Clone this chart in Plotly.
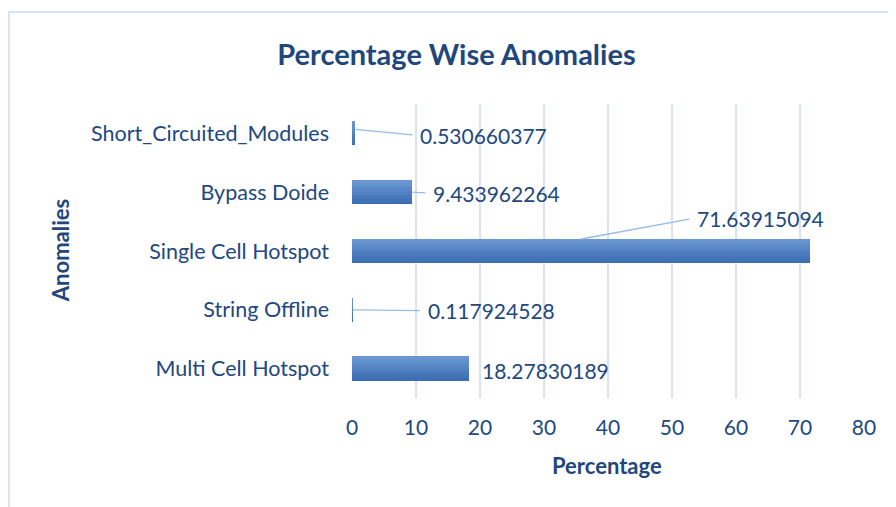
import plotly.graph_objects as go

# ---- data ----
categories = ["Multi Cell Hotspot", "String Offline", "Single Cell Hotspot",
              "Bypass Doide", "Short_Circuited_Modules"]
percentages = [18.27830189, 0.117924528, 71.63915094, 9.433962264, 0.530660377]
value_labels = ["18.27830189", "0.117924528", "71.63915094", "9.433962264", "0.530660377"]
x_ticks = [0, 10, 20, 30, 40, 50, 60, 70, 80]

# ---- style ----
FONT = "Lato"
TXT = "#21487F"
TITLE_C = "#1F477C"
GRID = "#D7E3F4"
LEADER = "#95BBE6"
top_rgb = (106, 151, 210)
bot_rgb = (60, 109, 179)

fig = go.Figure()

# gradient bars built from thin overlaid strips
n_strips = 10
bar_w = 0.41
for i in range(n_strips):
    t = i / (n_strips - 1)
    c = tuple(int(round(bot_rgb[k] + (top_rgb[k] - bot_rgb[k]) * t)) for k in range(3))
    fig.add_trace(go.Bar(
        x=percentages, y=categories, orientation="h",
        width=bar_w / n_strips + 0.004,
        offset=-bar_w / 2 + i * bar_w / n_strips,
        marker=dict(color="rgb(%d,%d,%d)" % c, line=dict(width=0)),
        hoverinfo="skip", showlegend=False,
    ))

# label placement (pixel offsets), per category
# (head x as fraction of value, head yshift, ax, ay, show leader)
label_cfg = {
    "Short_Circuited_Modules": (1.0, 4, 63, 6, True),
    "Bypass Doide": (1.0, 0, 19, 1, True),
    "Single Cell Hotspot": (0.5, 12, 114, -21, True),
    "String Offline": (1.0, 0, 73, 1, True),
    "Multi Cell Hotspot": (1.0, -2, 11, 0, False),
}
for cat, val, lab in zip(categories, percentages, value_labels):
    fx, ys, ax, ay, lead = label_cfg[cat]
    if lead:
        fig.add_annotation(
            x=val * fx, y=cat, xref="x", yref="y", text=lab,
            showarrow=True, arrowhead=0, arrowwidth=1.3, arrowcolor=LEADER,
            startstandoff=6,
            ax=ax, ay=ay, xanchor="left", yanchor="middle", yshift=ys,
            font=dict(family=FONT, size=21, color=TXT),
        )
    else:
        fig.add_annotation(
            x=val, y=cat, xref="x", yref="y", text=lab, showarrow=False,
            xanchor="left", yanchor="middle", xshift=ax, yshift=ys,
            font=dict(family=FONT, size=21, color=TXT),
        )

# axis titles
fig.add_annotation(x=-0.57, y=0.5, xref="paper", yref="paper", text="<b>Anomalies</b>",
                   textangle=-90, showarrow=False, xanchor="center", yanchor="middle",
                   font=dict(family=FONT, size=22, color=TITLE_C))
fig.add_annotation(x=0.498, y=-0.231, xref="paper", yref="paper", text="<b>Percentage</b>",
                   showarrow=False, xanchor="center", yanchor="middle",
                   font=dict(family=FONT, size=22, color=TITLE_C))

# chart frame
fig.add_shape(type="rect", xref="paper", yref="paper", x0=-0.67, x1=1.2, y0=-0.6, y1=1.313,
              line=dict(color="#D6E4F6", width=2), fillcolor="rgba(0,0,0,0)", layer="below")

fig.update_layout(
    width=896, height=507,
    margin=dict(l=344, r=40, t=96, b=117),
    paper_bgcolor="white", plot_bgcolor="white",
    barmode="overlay", bargap=0,
    title=dict(text="<b>Percentage Wise Anomalies</b>", x=448.5 / 896, xanchor="center",
               y=1 - 47 / 507, yanchor="middle", yref="container",
               font=dict(family=FONT, size=29, color=TITLE_C)),
    xaxis=dict(range=[0, 80], tickvals=x_ticks, showgrid=True, gridcolor=GRID, gridwidth=1.5,
               zeroline=False, showline=False, ticks="", ticklabelstandoff=15,
               tickfont=dict(family=FONT, size=21, color=TXT), fixedrange=True),
    yaxis=dict(categoryorder="array", categoryarray=categories, showgrid=False,
               zeroline=False, showline=False, ticks="", ticklabelstandoff=22,
               tickfont=dict(family=FONT, size=21.5, color=TXT), fixedrange=True),
)

fig.write_html("out.html")
